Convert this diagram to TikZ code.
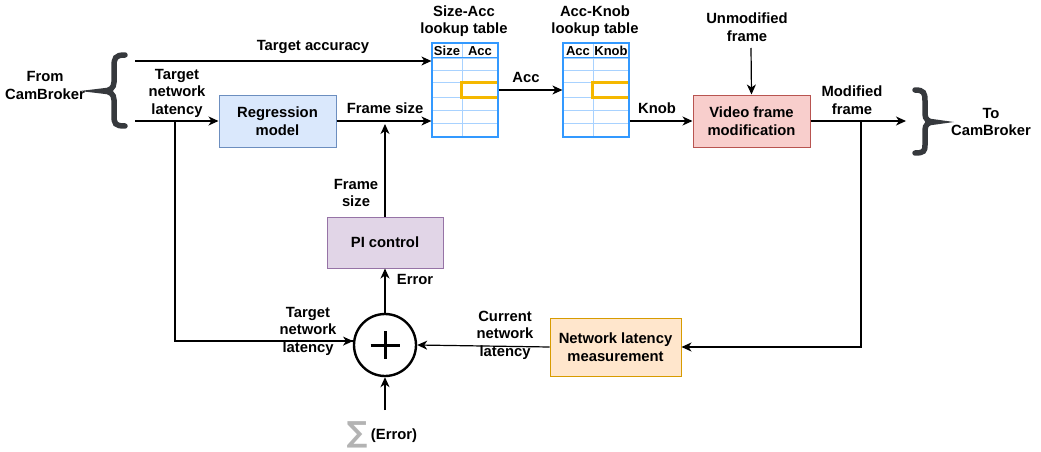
\documentclass[tikz,border=0pt]{standalone}
\usepackage{fontspec}
\setmainfont{Liberation Sans}
\newfontfamily\symfont{DejaVu Sans}
\usetikzlibrary{arrows.meta,calc}
\definecolor{regfill}{HTML}{DAE8FC}\definecolor{regdraw}{HTML}{6C8EBF}
\definecolor{pifill}{HTML}{E1D5E7}\definecolor{pidraw}{HTML}{9673A6}
\definecolor{vfmfill}{HTML}{F8CECC}\definecolor{vfmdraw}{HTML}{B85450}
\definecolor{nlmfill}{HTML}{FFE6CC}\definecolor{nlmdraw}{HTML}{D79B00}
\definecolor{tblborder}{HTML}{3399FF}\definecolor{tblinner}{HTML}{A8D2FF}
\definecolor{hl}{HTML}{F5B800}
\definecolor{bracecol}{HTML}{36393D}
\definecolor{sumgray}{HTML}{B3B3B3}
\tikzset{
  every node/.style={font=\fontsize{14.8}{17.5}\selectfont\bfseries, inner sep=0pt, align=center},
  box/.style={draw, line width=1pt, minimum width=117pt, minimum height=52pt},
  arr/.style={line width=1.2pt, -{Stealth[length=10pt,width=9pt,inset=3pt]}},
  plain/.style={line width=1.2pt},
  tbl/.style={draw=tblborder, line width=1.2pt, minimum width=66pt, minimum height=94pt},
  tline/.style={draw=tblinner, line width=0.8pt},
  hlline/.style={draw=hl, line width=3pt},
  bracestyle/.style={draw=bracecol, line width=5.5pt, line cap=round},
  hdr/.style={font=\fontsize{13}{15}\selectfont\bfseries},
}
\begin{document}
\begin{tikzpicture}[x=1pt,y=-1pt]
\useasboundingbox (0,0) rectangle (1041,452);
% boxes
\node[box, fill=regfill, draw=regdraw, minimum width=117pt] (reg) at (277.5,121) {Regression\\model};
\node[box, fill=pifill, draw=pidraw, minimum width=116pt, minimum height=51pt] (pi) at (385,242.5) {PI control};
\node[box, fill=vfmfill, draw=vfmdraw] (vfm) at (751.5,121) {Video frame\\modification};
\node[box, fill=nlmfill, draw=nlmdraw, minimum width=131pt, minimum height=58pt] (nlm) at (615.5,347) {Network latency\\measurement};
\node[draw, circle, line width=2.4pt, minimum size=62pt] (sum) at (385,345) {};
\draw[line width=3pt] ($(sum.center)+(-14.5,0)$) -- ($(sum.center)+(14.5,0)$);
\draw[line width=3pt] ($(sum.center)+(0,-14)$) -- ($(sum.center)+(0,14)$);
% tables
\node[tbl] (t1) at (465,90) {};
\node[tbl] (t2) at (596,90) {};
\foreach \y in {58,70,82,97,110,123} {
  \draw[tline] (433,\y) -- (497,\y);
  \draw[tline] (564,\y) -- (628,\y);
}
\draw[tline] (462,44) -- (462,136);
\draw[tline] (593,44) -- (593,136);
\draw[tblborder, line width=1pt] (433,58) -- (497,58);
\draw[tblborder, line width=1pt] (564,58) -- (628,58);
\draw[hlline] (497,82) -- (461,82) -- (461,97) -- (497,97);
\draw[hlline] (628,82) -- (592,82) -- (592,97) -- (628,97);
\node[hdr] (h1a) at (447,51) {Size};
\node[hdr] (h1b) at (480,51) {Acc};
\node[hdr] (h2a) at (578,51) {Acc};
\node[hdr] (h2b) at (611,51) {Knob};
% braces
\draw[bracestyle] (125,55) .. controls (115,55) and (114,58) .. (114,67) -- (114,82) .. controls (114,88) and (110,91) .. (103,91) .. controls (110,91) and (114,94) .. (114,100) -- (114,115) .. controls (114,124) and (115,126) .. (125,126);
\draw[bracestyle] (915,90) .. controls (924,90) and (925,93) .. (925,101) -- (925,114) .. controls (925,119) and (928,122) .. (934,122) .. controls (928,122) and (925,125) .. (925,130) -- (925,145) .. controls (925,151) and (924,153) .. (915,153);
% coordinates
\coordinate (ta) at (135,61);
\coordinate (tn) at (135,121);
\coordinate (tj) at (175,121);
\coordinate (fsj) at (385,124);
\coordinate (um) at (751,48);
\coordinate (out) at (906,121);
\coordinate (mj) at (861,121);
\coordinate (sb) at (385,410);
% connectors
\draw[arr] (ta) -- (ta -| t1.west);
\draw[arr] (tn) -- (reg.west);
\draw[plain] (tj) |- (sum.173);
\draw[arr] ($(sum.173)+(-2,0)$) -- (sum.173);
\draw[arr] (reg.east) -- (reg.east -| t1.west);
\draw[arr] (pi.north) -- (fsj);
\draw[arr] (t1.east) -- (t2.west);
\draw[arr] (t2.east |- vfm.west) -- (vfm.west);
\draw[arr] (um) -- (vfm.north);
\draw[arr] (vfm.east) -- (out);
\draw[arr] (mj) |- (nlm.east);
\draw[arr] (nlm.west) -- (sum.east);
\draw[arr] (sum.north) -- (pi.south);
\draw[arr] (sb) -- (sum.south);
% labels
\node (lfrom) at (45,85.5) {From\\CamBroker};
\node (lto) at (991,122) {To\\CamBroker};
\node (lta) at (313,47) {Target accuracy};
\node (ltn) at (177,93) {Target\\network\\latency};
\node (lfs) at (385,108) {Frame size};
\node (lfs2) at (356,193) {Frame\\size};
\node (lerr) at (415,279) {Error};
\node (ltab1) at (464,21) {Size-Acc\\lookup table};
\node (ltab2) at (595,21) {Acc-Knob\\lookup table};
\node (lacc) at (526,77) {Acc};
\node (lknob) at (657,108) {Knob};
\node (lum) at (747,27) {Unmodified\\frame};
\node (lmf) at (852,100) {Modified\\frame};
\node (lcnl) at (505,335) {Current\\network\\latency};
\node (ltnl) at (308,331) {Target\\network\\latency};
\node[font=\symfont\bfseries\fontsize{29}{29}\selectfont, text=sumgray] (lsig) at (357,435) {∑};
\node (lerr2) at (394,436) {(Error)};
\end{tikzpicture}
\end{document}
